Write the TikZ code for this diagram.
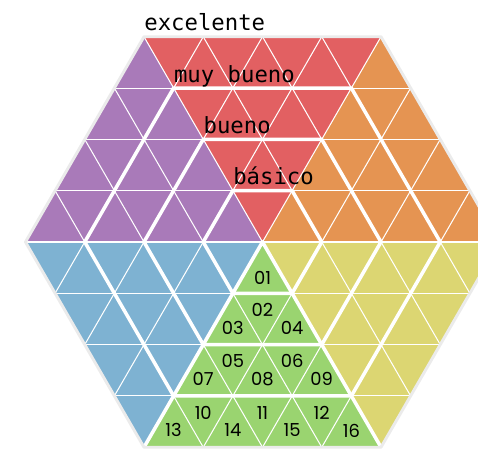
\documentclass[tikz,border=0pt]{standalone}
\usepackage{fontspec}
\newfontfamily\levelfont{DejaVu Sans Mono}
\newfontfamily\cellfont{Poppins}
\usepackage{xcolor}
\usepackage{tikz}

\definecolor{secred}{RGB}{226,96,98}
\definecolor{secorange}{RGB}{229,148,82}
\definecolor{secyellow}{RGB}{220,214,114}
\definecolor{secgreen}{RGB}{154,212,112}
\definecolor{secblue}{RGB}{126,178,210}
\definecolor{secpurple}{RGB}{169,122,185}

\begin{document}
\begin{tikzpicture}[
    x=1cm, y=1cm,
    thinline/.style={draw=white, line width=0.5pt},
    thickline/.style={draw=white, line width=1.7pt, line join=round, line cap=round},
    rim/.style={draw=black!8, line width=1.4pt, line join=round},
    level/.style={anchor=base west, inner sep=0pt, font=\levelfont\fontsize{10.7}{12}\selectfont},
    cell/.style={inner sep=0pt, font=\cellfont\fontsize{8.6}{10}\selectfont}
]
    \useasboundingbox (-4.43,-3.527) rectangle (3.637,4.084);

    % six sectors
    \fill [secorange] (0,0) -- (0:4) -- (60:4) -- cycle;
    \fill [secred] (0,0) -- (60:4) -- (120:4) -- cycle;
    \fill [secpurple] (0,0) -- (120:4) -- (180:4) -- cycle;
    \fill [secblue] (0,0) -- (180:4) -- (240:4) -- cycle;
    \fill [secgreen] (0,0) -- (240:4) -- (300:4) -- cycle;
    \fill [secyellow] (0,0) -- (300:4) -- (0:4) -- cycle;

    % small triangles
    \begin{scope}
        \clip (0:4) -- (60:4) -- (120:4) -- (180:4) -- (240:4) -- (300:4) -- cycle;
        \foreach \k in {-3,...,3}
            \draw [thinline] (-5,{\k*0.8660254}) -- (5,{\k*0.8660254});
        \foreach \k in {-8,...,8} {
            \draw [thinline] (\k,0) ++(240:5) -- ++(60:10);
            \draw [thinline] (\k,0) ++(300:5) -- ++(120:10);
        }
    \end{scope}

    % levels
    \foreach \r in {1,2,3}
        \draw [thickline] (0:\r) -- (60:\r) -- (120:\r) -- (180:\r) -- (240:\r) -- (300:\r) -- cycle;
    \draw [thickline] (240:4) -- (0,0) -- (300:4);
    \draw [rim] (0:4) -- (60:4) -- (120:4) -- (180:4) -- (240:4) -- (300:4) -- cycle;

    \node [level] (excelente) at (-2,3.565) {excelente};
    \node [level] (muybueno) at (-1.5,2.698) {muy bueno};
    \node [level] (bueno) at (-1,1.832) {bueno};
    \node [level] (basico) at (-0.5,0.966) {básico};

    % numbered cells
    \foreach \n/\cx/\cy in {01/0/-0.6,
        02/0/-1.14, 03/-0.5/-1.45, 04/0.5/-1.45,
        05/-0.5/-2.01, 06/0.5/-2.01, 07/-1/-2.31, 08/0/-2.31, 09/1/-2.31,
        10/-1/-2.88, 11/0/-2.88, 12/1/-2.88,
        13/-1.5/-3.18, 14/-0.5/-3.18, 15/0.5/-3.18, 16/1.5/-3.18}
        \node [cell] (c\n) at (\cx,\cy) {\n};
\end{tikzpicture}
\end{document}
